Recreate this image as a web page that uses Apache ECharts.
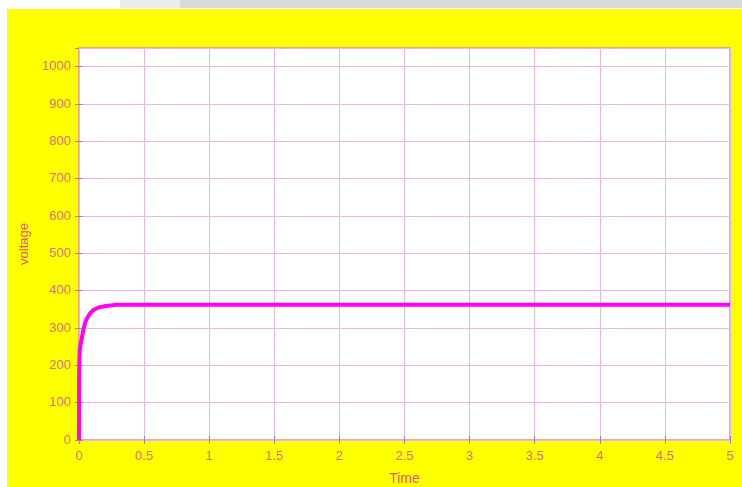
<!DOCTYPE html>
<html>
<head>
<meta charset="utf-8">
<script src="https://cdn.jsdelivr.net/npm/echarts@6/dist/echarts.min.js"></script>
<style>
html,body{margin:0;padding:0;background:#fff;}
#chart{width:742px;height:487px;}
</style>
</head>
<body>
<div id="chart"></div>
<script>
// Data
const timeValues = [0, 0.001, 0.003, 0.006, 0.01, 0.02, 0.033, 0.045, 0.06, 0.08, 0.11, 0.15, 0.19, 0.24, 0.29, 0.4, 0.6, 1, 2, 3, 4, 5];
const voltageValues = [0, 170, 215, 240, 252, 270, 294, 312, 325, 337, 348, 355, 358, 360.5, 362, 362, 362, 362, 362, 362, 362, 362];
const xTicks = {min: 0, max: 5, interval: 0.5};
const yTicks = {min: 0, max: 1050, interval: 100};
const xName = 'Time';
const yName = 'voltage';

const seriesData = timeValues.map((t, i) => [t, voltageValues[i]]);

const chart = echarts.init(document.getElementById('chart'), null, {renderer: 'canvas'});

const gridLine = '#e6b8e6';
const tickColor = '#a878c8';
const labelColor = '#dc6c78';
const nameColor = '#dc5478';
const font = 'Liberation Sans, Arial, sans-serif';

const commonX = {
  type: 'value', min: xTicks.min, max: xTicks.max, interval: xTicks.interval,
  axisLine: {show: false},
  axisTick: {show: true, inside: true, length: 4, lineStyle: {color: tickColor, width: 1}},
};
const commonY = {
  type: 'value', min: yTicks.min, max: yTicks.max, interval: yTicks.interval,
  axisLine: {show: false},
  axisTick: {show: true, inside: true, length: 4, lineStyle: {color: tickColor, width: 1}},
};

chart.setOption({
  backgroundColor: '#ffffff',
  animation: false,
  graphic: [
    {type: 'rect', z: -10, silent: true, shape: {x: 7, y: 9, width: 735, height: 478}, style: {fill: '#ffff00'}},
    {type: 'rect', z: -10, silent: true, shape: {x: 172, y: 0, width: 570, height: 8}, style: {fill: '#d9d9d9'}},
    {type: 'rect', z: -9, silent: true, shape: {x: 120, y: 0, width: 60, height: 8}, style: {fill: '#ececec'}}
  ],
  grid: {
    left: 79, right: 12, top: 48, bottom: 47,
    outerBoundsMode: 'none', containLabel: false,
    show: true, backgroundColor: '#ffffff', borderColor: '#e58a9c', borderWidth: 1.5
  },
  xAxis: [
    Object.assign({}, commonX, {
      position: 'bottom',
      name: xName, nameLocation: 'middle', nameGap: 32,
      nameTextStyle: {color: nameColor, fontSize: 14, fontFamily: font},
      axisLabel: {color: labelColor, fontSize: 13, fontFamily: font, margin: 10},
      splitLine: {show: true, lineStyle: {color: gridLine, width: 1}}
    }),
    Object.assign({}, commonX, {
      position: 'top',
      axisLabel: {show: false},
      splitLine: {show: false}
    })
  ],
  yAxis: [
    Object.assign({}, commonY, {
      position: 'left',
      name: yName, nameLocation: 'middle', nameGap: 48, nameRotate: 90,
      nameTextStyle: {color: nameColor, fontSize: 13, fontFamily: font},
      axisLabel: {color: labelColor, fontSize: 13, fontFamily: font, margin: 8, showMaxLabel: false,
        formatter: v => String(v)},
      splitLine: {show: true, lineStyle: {color: gridLine, width: 1}}
    }),
    Object.assign({}, commonY, {
      position: 'right',
      axisLabel: {show: false},
      splitLine: {show: false}
    })
  ],
  series: [{
    type: 'line',
    xAxisIndex: 0, yAxisIndex: 0,
    data: seriesData,
    showSymbol: false,
    smooth: false,
    lineStyle: {color: '#ff00ff', width: 4},
    z: 5
  }]
});
</script>
</body>
</html>
